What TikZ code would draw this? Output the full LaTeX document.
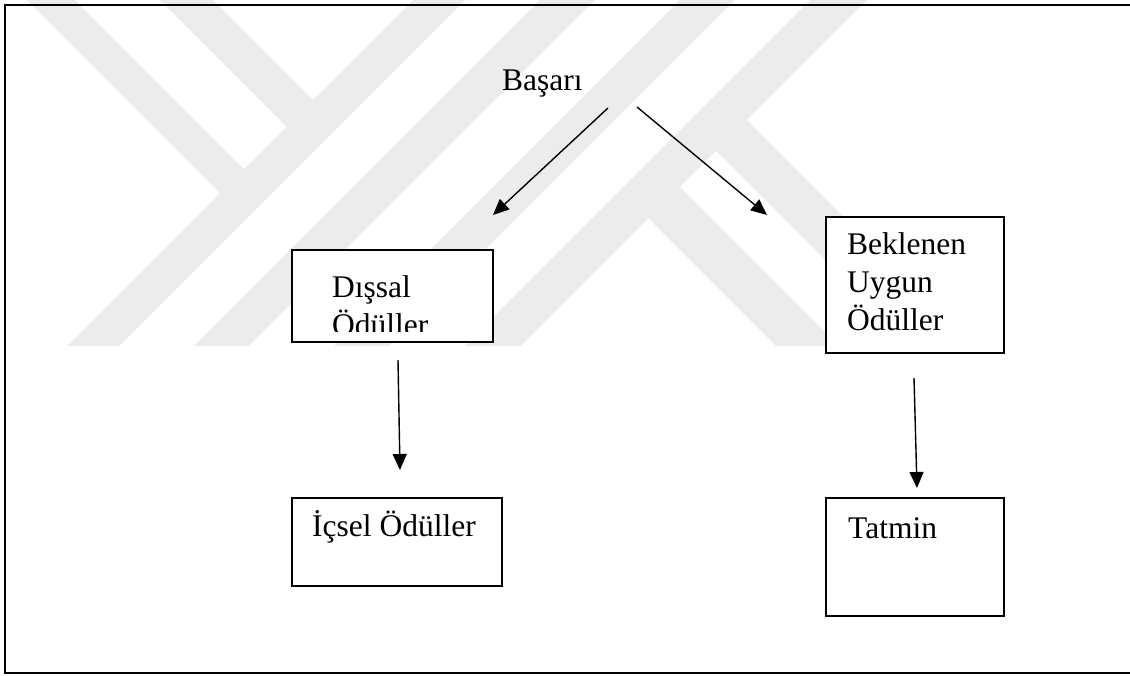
\documentclass[tikz,border=0pt]{standalone}
\usepackage{fontspec}
\setmainfont{Liberation Serif}
\usetikzlibrary{arrows.meta}
\definecolor{wmgray}{gray}{0.925}
\tikzset{
  box/.style={draw=black, line width=2pt, fill=white, rectangle, inner sep=0pt, anchor=north west},
  lbl/.style={font=\fontsize{31.5}{38}\selectfont, inner sep=0pt, align=left},
  conn/.style={line width=1.4pt, -{Triangle[length=16pt,width=14pt]}},
  frameline/.style={line width=2pt},
  band/.style={fill=wmgray}
}
% a band between u=#1..#2 and v=#3..#4 in diagonal coordinates
\newcommand\diagband[4]{\fill[band] (#1,#3) -- (#2,#3) -- (#2,#4) -- (#1,#4) -- cycle;}
\begin{document}
\begin{tikzpicture}[x=1pt,y=-1pt]
\useasboundingbox (0,0) rectangle (1130,675);

% background emblem: diagonal bands, given in (x+y, x-y) coordinates
\begin{scope}
  \clip (0,0) rectangle (1130,345);
  \begin{scope}[x={(0.5pt,-0.5pt)}, y={(0.5pt,0.5pt)}]
    % rising bands
    \diagband{413}{465}{-600}{1600}
    \diagband{540}{595}{-600}{1600}
    \diagband{680}{735}{-600}{1600}
    \diagband{810}{867}{-600}{1600}
    % arms on the left
    \diagband{-200}{413}{27}{75}
    \diagband{-200}{413}{160}{213}
    % arms on the right
    \diagband{867}{2200}{430}{493}
    \diagband{867}{2200}{565}{627}
  \end{scope}
\end{scope}

% outer frame
\draw[frameline] (1130,5) -- (5,5) -- (5,673) -- (1130,673);

% boxes
\node[box, minimum width=201pt, minimum height=92pt]  (dissal)   at (291,249) {};
\node[box, minimum width=178pt, minimum height=136pt] (beklenen) at (825,216) {};
\node[box, minimum width=210pt, minimum height=88pt]  (icsel)    at (291,497) {};
\node[box, minimum width=178pt, minimum height=118pt] (tatmin)   at (825,497) {};

% labels
\node[lbl, anchor=base west] (basari) at (502,90) {Başarı};
\begin{scope}
  \clip (292,250) rectangle (491,331);
  \node[lbl, anchor=north west] (dissaltxt) at (332,275.5) {Dışsal\\Ödüller};
\end{scope}
\node[lbl, anchor=north west] (beklenentxt) at (847,232.5) {Beklenen\\Uygun\\Ödüller};
\node[lbl, anchor=base west] (icseltxt) at (312,536) {İçsel Ödüller};
\node[lbl, anchor=base west] (tatmintxt) at (848,538) {Tatmin};

% connector ends
\coordinate (bL) at (608,108);
\coordinate (dTop) at (493,215);
\coordinate (bR) at (637,107);
\coordinate (kTop) at (767,215);
\coordinate (dBot) at (398,360);
\coordinate (iTop) at (400,470);
\coordinate (kBot) at (914,378);
\coordinate (tTop) at (917,488);

\draw[conn] (bL) -- (dTop);
\draw[conn] (bR) -- (kTop);
\draw[conn] (dBot) -- (iTop);
\draw[conn] (kBot) -- (tTop);
\end{tikzpicture}
\end{document}
